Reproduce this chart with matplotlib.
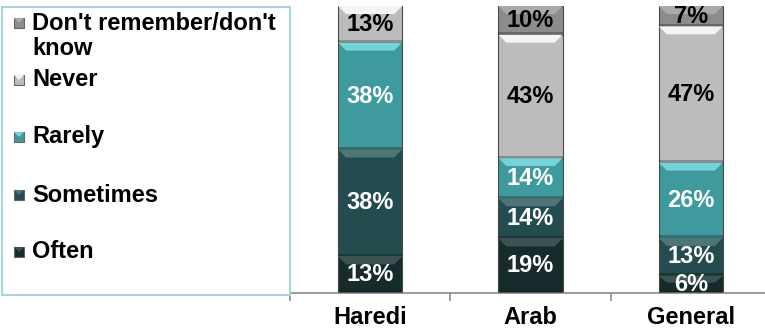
import numpy as np
import matplotlib
matplotlib.use("Agg")
import matplotlib.pyplot as plt
from matplotlib.patches import Polygon, Rectangle

plt.rcParams['font.family'] = ['Liberation Sans', 'DejaVu Sans']
plt.rcParams['font.weight'] = 'bold'

# --- data ---
groups = ["Haredi", "Arab", "General"]
responses = ["Often", "Sometimes", "Rarely", "Never", "Don't remember/don't\nknow"]
often = [13, 19, 6]
sometimes = [38, 14, 13]
rarely = [38, 14, 26]
never = [13, 43, 47]
dont_know = [0, 10, 7]

series = [often, sometimes, rarely, never, dont_know]

# face, top bevel, text colour per response
face = ["#172b2c", "#244b4d", "#3f9a9e", "#bcbcbc", "#8c8c8c"]
bevel = ["#3d5252", "#4f7677", "#74d2d8", "#f4f4f4", "#aaaaaa"]
txt_col = ["white", "white", "white", "black", "black"]
FS = 17

fig = plt.figure(figsize=(7.65, 3.3), dpi=100)
W, H = 765, 330

ax = fig.add_axes([290 / W, 37 / H, 481 / W, 287 / H])
x = np.arange(len(groups))
width = 0.40
totals = np.sum(series, axis=0)

dx = 8 / 160.5   # bevel inset in data units
dy = 8 / 287

bottom = np.zeros(len(groups))
for k, vals in enumerate(series):
    frac = np.array(vals) / totals
    for i in range(len(groups)):
        if vals[i] == 0:
            continue
        x0 = x[i] - width / 2
        x1 = x[i] + width / 2
        b = bottom[i]
        t = b + frac[i]
        ax.add_patch(Rectangle((x0, b), width, frac[i], facecolor=face[k],
                               edgecolor="#4a4a4a", lw=0.8, zorder=2))
        h = min(dy, frac[i] * 0.4)
        ax.add_patch(Polygon([(x0, t), (x1, t), (x1 - dx, t - h), (x0 + dx, t - h)],
                             closed=True, facecolor=bevel[k], edgecolor="none", zorder=3))
        ax.add_patch(Rectangle((x0, b), width, 2.5 / 287, facecolor="black",
                               alpha=0.25, edgecolor="none", zorder=3))
        ax.text(x[i], (b + t) / 2, f"{vals[i]}%", ha="center", va="center",
                color=txt_col[k], fontsize=FS, fontweight="bold", zorder=4)
    bottom += frac

ax.set_xlim(-0.5, 2.5)
ax.set_ylim(0, 1)
ax.set_yticks([])
for s in ["top", "right", "left"]:
    ax.spines[s].set_visible(False)
ax.spines["bottom"].set_color("#8a8a8a")
ax.spines["bottom"].set_linewidth(1.2)
ax.set_xticks(x)
ax.set_xticklabels(groups, fontsize=FS, fontweight="bold")
ax.tick_params(axis="x", which="major", length=0, pad=9)
ax.set_xticks([-0.5, 0.5, 1.5, 2.5], minor=True)
ax.tick_params(axis="x", which="minor", length=6, color="#8a8a8a", width=1.2)

# --- legend panel ---
lg = fig.add_axes([2 / W, 35 / H, 288 / W, 288 / H])
lg.set_xlim(0, 288)
lg.set_ylim(288, 0)
lg.set_xticks([])
lg.set_yticks([])
for s in lg.spines.values():
    s.set_color("#a6d6da")
    s.set_linewidth(1.5)

marker_y = [245, 188, 130, 73, 16]
text_y = [245, 188, 130, 73, 29]
for k in range(len(responses)):
    yc = marker_y[k]
    lg.add_patch(Rectangle((12, yc - 5), 10, 10, facecolor=face[k],
                           edgecolor="#666666", lw=0.8))
    lg.add_patch(Polygon([(12, yc - 5), (22, yc - 5), (17, yc)],
                         closed=True, facecolor=bevel[k], edgecolor="none"))
    lg.text(30, text_y[k], responses[k], ha="left", va="center",
            fontsize=FS, fontweight="bold", linespacing=1.1)

fig.savefig("out.png", dpi=100)
